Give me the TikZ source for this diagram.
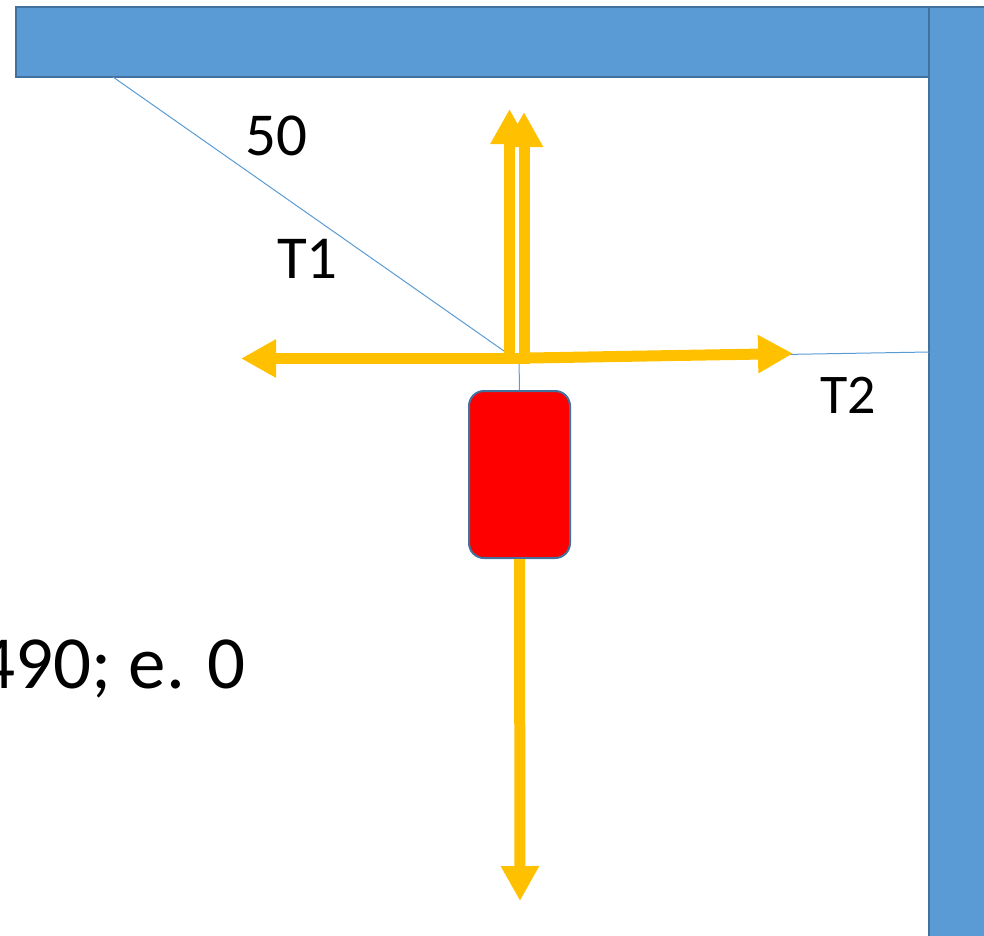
\documentclass[tikz,border=0pt]{standalone}
\usepackage{fontspec}
\setmainfont{Carlito}
\usepackage{xcolor}
\usepackage{tikz}
\usetikzlibrary{arrows.meta, positioning, calc}

\definecolor{trave}{HTML}{5B9BD5}
\definecolor{bordo}{HTML}{41719C}
\definecolor{forza}{HTML}{FFC000}
\definecolor{massa}{HTML}{FF0000}

\tikzset{
    freccia/.style={draw=forza, line width=11pt, -{Triangle[length=35pt, width=36pt]}},
    filo/.style={draw=trave, line width=1pt},
    etichetta/.style={inner sep=0pt, font=\fontsize{61}{72}\selectfont}
}

\begin{document}
\begin{tikzpicture}[x=1pt, y=-1pt]
    \useasboundingbox (0,0) rectangle (984,935);

    % Travi
    \draw[fill=trave, draw=bordo, line width=2pt] (16,7) rectangle (929,77);
    \draw[fill=trave, draw=bordo, line width=2pt] (929,7) rectangle (995,945);

    % Punti
    \coordinate (A) at (113,77);
    \coordinate (O) at (504,351);
    \coordinate (C) at (519,359);
    \coordinate (B) at (929,352);

    % Massa
    \node[fill=massa, draw=bordo, line width=2pt, rounded corners=15pt,
          minimum width=101pt, minimum height=167pt, inner sep=0pt] (m) at (519.5,474.5) {};

    % Fili
    \draw[filo] (A) -- (O);
    \draw[filo] (C) -- (B);
    \draw[filo] (C) -- (m.north);

    % Forze
    \coordinate (sx) at (241,358.5);
    \coordinate (sx0) at (518.5,358.5);
    \coordinate (dx0) at (529,358);
    \coordinate (dx) at (793,353.5);
    \coordinate (su1a) at (509.5,364);
    \coordinate (su1) at (509.5,109);
    \coordinate (su2a) at (524,364);
    \coordinate (su2) at (524,112);
    \coordinate (giu) at (520,901);

    \draw[freccia] (sx0) -- (sx);
    \draw[freccia] (dx0) -- (dx);
    \draw[freccia] (su1a) -- (su1);
    \draw[freccia] (su2a) -- (su2);
    \draw[freccia] (m.south) -- (giu);

    % Etichette
    \node[etichetta, anchor=base west] (n50) at (245,155) {50};
    \node[etichetta, anchor=base west] (nT1) at (277,278) {T1};
    \node[etichetta, anchor=base west, font=\fontsize{56}{66}\selectfont] (nT2) at (820,413) {T2};
    \node[etichetta, anchor=base east, font=\fontsize{75}{88}\selectfont] (nm) at (246,688) {490; e. 0};
\end{tikzpicture}
\end{document}
